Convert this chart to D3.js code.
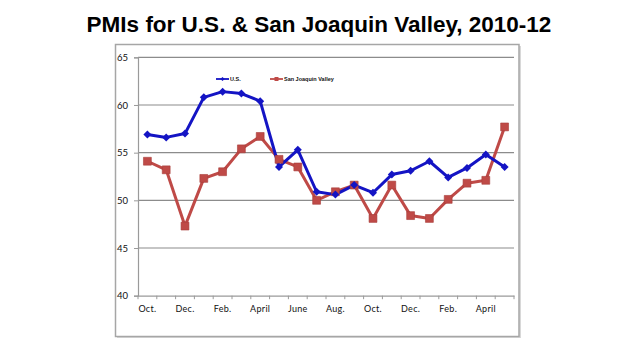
<!DOCTYPE html>
<html>
<head>
<meta charset="utf-8">
<script src="https://cdn.jsdelivr.net/npm/d3@7"></script>
<style>
  html, body { margin: 0; padding: 0; background: #fff; }
  svg { display: block; }
</style>
</head>
<body>
<svg id="chart" width="620" height="350"></svg>
<script>
// Monthly PMI readings, Oct. 2010 through May 2012
const months = ["Oct. 2010","Nov. 2010","Dec. 2010","Jan. 2011","Feb. 2011","Mar. 2011","April 2011","May 2011","June 2011","July 2011","Aug. 2011","Sep. 2011","Oct. 2011","Nov. 2011","Dec. 2011","Jan. 2012","Feb. 2012","Mar. 2012","April 2012","May 2012"];
const tickLabels = ["Oct.","","Dec.","","Feb.","","April","","June","","Aug.","","Oct.","","Dec.","","Feb.","","April",""];
const usValues  = [56.9, 56.6, 57.0, 60.8, 61.4, 61.2, 60.4, 53.5, 55.3, 50.9, 50.6, 51.6, 50.8, 52.7, 53.1, 54.1, 52.4, 53.4, 54.8, 53.5];
const sjvValues = [54.1, 53.2, 47.3, 52.3, 53.0, 55.4, 56.7, 54.3, 53.5, 50.0, 50.9, 51.6, 48.1, 51.6, 48.4, 48.1, 50.1, 51.8, 52.1, 57.7];
const yTicks = [40, 45, 50, 55, 60, 65];
const seriesNames = ["U.S.", "San Joaquin Valley"];

const svg = d3.select("#chart");

// Title
const title = svg.append("text")
  .attr("x", 319).attr("y", 31.5)
  .attr("text-anchor", "middle")
  .attr("font-family", "Liberation Sans, Arial, sans-serif")
  .attr("font-weight", "bold")
  .attr("font-size", 23)
  .attr("fill", "#000")
  .text("PMIs for U.S. & San Joaquin Valley, 2010-12");
const tw = title.node().getComputedTextLength();
title.attr("font-size", 23 * 465 / tw);

// Chart frame with a soft shadow
svg.append("rect")
  .attr("x", 117).attr("y", 46).attr("width", 404).attr("height", 292)
  .attr("fill", "#d8d8d8");
svg.append("rect")
  .attr("x", 115.5).attr("y", 44.5).attr("width", 403.5).attr("height", 292)
  .attr("fill", "#fff").attr("stroke", "#a6a6a6").attr("stroke-width", 1.5);

const plot = { left: 138, right: 514, top: 57.3, bottom: 295.7 };

const x = d3.scaleBand().domain(months).range([plot.left, plot.right]);
const y = d3.scaleLinear().domain([40, 65]).range([plot.bottom, plot.top]);

// Horizontal gridlines
svg.append("g")
  .selectAll("line")
  .data(yTicks.filter(d => d > 40))
  .join("line")
  .attr("x1", plot.left).attr("x2", plot.right)
  .attr("y1", d => y(d)).attr("y2", d => y(d))
  .attr("stroke", "#8c8c8c").attr("stroke-width", 1.2);

// Y axis
const yAxis = svg.append("g")
  .attr("transform", `translate(${plot.left},0)`)
  .call(d3.axisLeft(y).tickValues(yTicks).tickSize(4).tickPadding(6));
yAxis.select(".domain").attr("stroke", "#9a9a9a").attr("stroke-width", 1.2);
yAxis.selectAll(".tick line").attr("stroke", "#9a9a9a");
yAxis.selectAll("text")
  .attr("font-family", "Lato, 'Open Sans', sans-serif")
  .attr("font-size", 9.5).attr("fill", "#111");

// X axis: tick marks between categories, labels every other month
const xAxis = svg.append("g")
  .attr("transform", `translate(0,${plot.bottom})`)
  .call(d3.axisBottom(x).tickSize(0).tickPadding(10).tickFormat((d, i) => tickLabels[i]));
xAxis.select(".domain").attr("stroke", "#9a9a9a").attr("stroke-width", 1.2);
xAxis.selectAll("text")
  .attr("font-family", "Lato, 'Open Sans', sans-serif")
  .attr("font-size", 9).attr("letter-spacing", 0.3).attr("fill", "#111");
svg.append("g")
  .selectAll("line")
  .data(months.concat(["end"]))
  .join("line")
  .attr("x1", (d, i) => plot.left + i * x.step())
  .attr("x2", (d, i) => plot.left + i * x.step())
  .attr("y1", plot.bottom).attr("y2", plot.bottom + 3.5)
  .attr("stroke", "#9a9a9a").attr("stroke-width", 1);

const cx = (d, i) => x(months[i]) + x.bandwidth() / 2;
const line = d3.line().x(cx).y(d => y(d));

const usColor = "#1414c4";
const sjvColor = "#bf4a47";

// San Joaquin Valley series
svg.append("path")
  .datum(sjvValues)
  .attr("d", line)
  .attr("fill", "none").attr("stroke", sjvColor).attr("stroke-width", 3)
  .attr("stroke-linejoin", "round");

// U.S. series
svg.append("path")
  .datum(usValues)
  .attr("d", line)
  .attr("fill", "none").attr("stroke", usColor).attr("stroke-width", 3)
  .attr("stroke-linejoin", "round");

// Markers: squares for the valley, diamonds (rotated squares) for the U.S.
const square = d3.symbol().type(d3.symbolSquare).size(62);
const diamond = d3.symbol().type(d3.symbolSquare).size(32);

svg.append("g").selectAll("path")
  .data(sjvValues).join("path")
  .attr("d", square)
  .attr("transform", (d, i) => `translate(${cx(d, i)},${y(d)})`)
  .attr("fill", sjvColor).attr("stroke", "#a83c39").attr("stroke-width", 0.6);

svg.append("g").selectAll("path")
  .data(usValues).join("path")
  .attr("d", diamond)
  .attr("transform", (d, i) => `translate(${cx(d, i)},${y(d)}) rotate(45)`)
  .attr("fill", usColor);

// Legend
const legend = svg.append("g").attr("font-family", "Liberation Sans, Arial, sans-serif")
  .attr("font-size", 5.5).attr("font-weight", "bold").attr("fill", "#111");
const legendItems = [
  { name: seriesNames[0], color: usColor, marker: d3.symbol().type(d3.symbolSquare).size(9), rot: 45, x: 216 },
  { name: seriesNames[1], color: sjvColor, marker: d3.symbol().type(d3.symbolSquare).size(16), rot: 0, x: 270 }
];
legendItems.forEach(it => {
  legend.append("line")
    .attr("x1", it.x).attr("x2", it.x + 13)
    .attr("y1", 79).attr("y2", 79)
    .attr("stroke", it.color).attr("stroke-width", 1.8);
  legend.append("path")
    .attr("d", it.marker)
    .attr("transform", `translate(${it.x + 6.5},79) rotate(${it.rot})`)
    .attr("fill", it.color);
  legend.append("text")
    .attr("x", it.x + 14).attr("y", 81)
    .text(it.name);
});
</script>
</body>
</html>
